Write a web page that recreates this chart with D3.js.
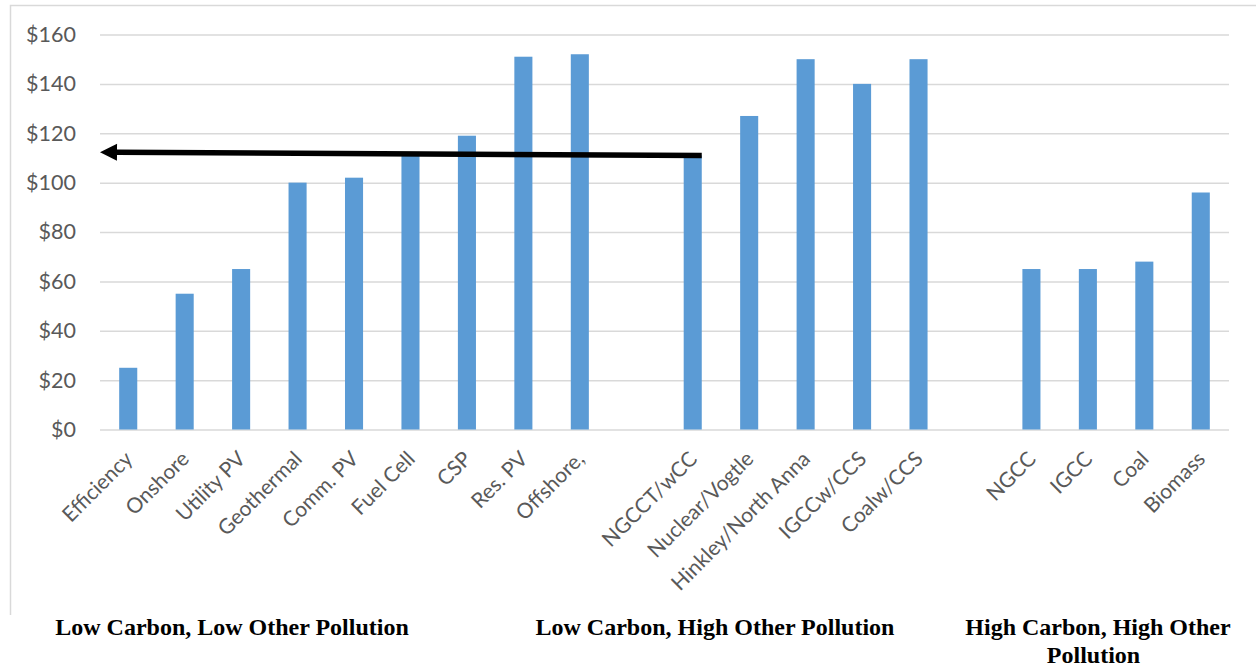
<!DOCTYPE html>
<html>
<head>
<meta charset="utf-8">
<script src="https://cdn.jsdelivr.net/npm/d3@7"></script>
<style>
  html, body { margin: 0; padding: 0; background: #fff; }
  svg { display: block; }
</style>
</head>
<body>
<svg id="chart" width="1256" height="667"></svg>
<script>
// ---- data ----
const categories = ["Efficiency", "Onshore", "Utility PV", "Geothermal", "Comm. PV", "Fuel Cell", "CSP", "Res. PV", "Offshore,", "gap1",
  "NGCCT/wCC", "Nuclear/Vogtle", "Hinkley/North Anna", "IGCCw/CCS", "Coalw/CCS", "gap2",
  "NGCC", "IGCC", "Coal", "Biomass"];
const values = [25, 55, 65, 100, 102, 112, 119, 151, 152, null,
  111, 127, 150, 140, 150, null,
  65, 65, 68, 96];
const yTicks = [0, 20, 40, 60, 80, 100, 120, 140, 160];
const groupLabels = [
  { lines: ["Low Carbon, Low Other Pollution"], cx: [232] },
  { lines: ["Low Carbon, High Other Pollution"], cx: [715] },
  { lines: ["High Carbon, High Other", "Pollution"], cx: [1098, 1093.5] }
];
const arrowStart = { cat: "NGCCT/wCC", value: 111 };
const arrowEndValue = 112.3;

// ---- layout ----
const svg = d3.select("#chart");
const mLeft = 100, mRight = 1229, mTop = 34.5, mBottom = 429.5;

const x = d3.scaleBand().domain(categories).range([mLeft, mRight])
  .paddingInner(0.68).paddingOuter(0.34);
const y = d3.scaleLinear().domain([0, 160]).range([mBottom, mTop]);

// chart border (left + top visible)
svg.append("path")
  .attr("d", `M10.5,615 L10.5,5.5 L1256,5.5`)
  .attr("fill", "none").attr("stroke", "#d9d9d9").attr("stroke-width", 1.5);

// gridlines + y labels
const yAxis = d3.axisLeft(y).tickValues(yTicks)
  .tickSize(-(mRight - mLeft)).tickPadding(24)
  .tickFormat(d => "$" + d);
const gy = svg.append("g").attr("transform", `translate(${mLeft},0)`).call(yAxis);
gy.select(".domain").remove();
gy.selectAll(".tick line").attr("stroke", "#d9d9d9").attr("stroke-width", 1.5);
gy.selectAll(".tick text")
  .attr("font-family", "Lato, 'Open Sans', sans-serif")
  .attr("font-size", 21.5).attr("fill", "#595959");

// bars
svg.append("g").selectAll("rect")
  .data(categories.map((c, i) => ({ c, v: values[i] })).filter(d => d.v != null))
  .join("rect")
  .attr("x", d => x(d.c))
  .attr("width", x.bandwidth())
  .attr("y", d => y(d.v))
  .attr("height", d => y(0) - y(d.v))
  .attr("fill", "#5b9bd5");

// category labels
const xAxis = d3.axisBottom(x).tickSize(0)
  .tickFormat(d => d.startsWith("gap") ? "" : d);
const gx = svg.append("g").attr("transform", `translate(0,${mBottom})`).call(xAxis);
gx.select(".domain").remove();
gx.selectAll(".tick text")
  .attr("font-family", "Lato, 'Open Sans', sans-serif")
  .attr("font-size", 21).attr("fill", "#595959")
  .attr("text-anchor", "end")
  .attr("dy", null).attr("y", null)
  .attr("transform", "translate(2,27) rotate(-45)")
  .attr("dominant-baseline", "middle");

// arrow
const ax1 = x(arrowStart.cat) + x.bandwidth();
const ay1 = y(arrowStart.value);
const ax2 = mLeft;
const ay2 = y(arrowEndValue);
const headLen = 17, headHalf = 8.5;
const ang = Math.atan2(ay2 - ay1, ax2 - ax1);
const bx = ax2 - headLen * Math.cos(ang), by = ay2 - headLen * Math.sin(ang);
svg.append("line")
  .attr("x1", ax1).attr("y1", ay1).attr("x2", bx).attr("y2", by)
  .attr("stroke", "#000").attr("stroke-width", 5.5);
svg.append("polygon")
  .attr("points", [
    [ax2, ay2],
    [bx - headHalf * Math.sin(ang), by + headHalf * Math.cos(ang)],
    [bx + headHalf * Math.sin(ang), by - headHalf * Math.cos(ang)]
  ].map(p => p.join(",")).join(" "))
  .attr("fill", "#000");

// group labels
groupLabels.forEach(g => {
  g.lines.forEach((line, i) => {
    svg.append("text")
      .attr("x", g.cx[i]).attr("y", 635 + i * 28)
      .attr("text-anchor", "middle")
      .attr("font-family", "'Liberation Serif', 'Times New Roman', serif")
      .attr("font-weight", "bold").attr("font-size", 24)
      .attr("fill", "#000")
      .text(line);
  });
});
</script>
</body>
</html>
